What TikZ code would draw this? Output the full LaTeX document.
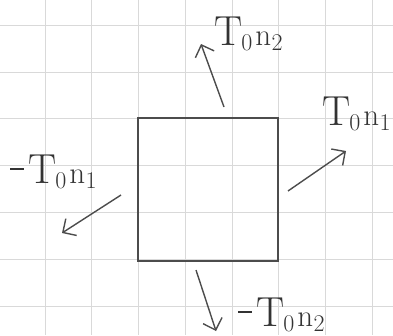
\documentclass[tikz,border=0pt]{standalone}
\usetikzlibrary{arrows.meta}
\newcommand\subsz[1]{\raisebox{-5pt}{\fontsize{24}{24}\selectfont #1}}
\newcommand\tnvec[1]{T\kern-1pt\subsz{0}\kern3pt{\fontsize{31}{31}\selectfont n}\kern0.5pt\subsz{#1}}
\newcommand\negdash{\rule[13pt]{14pt}{1.8pt}\kern4pt}
\begin{document}
\begin{tikzpicture}[x=1pt,y=-1pt,
  pencil/.style={draw=black!70,line width=1.4pt},
  vec/.style={pencil,-{Straight Barb[length=10pt,width=20pt,line width=1.4pt]}},
  lab/.style={text=black!80,inner sep=0pt,anchor=base west,font=\fontsize{42}{42}\selectfont}]
\useasboundingbox (0,0) rectangle (393,335);
% grid paper
\foreach \x in {45,91.7,138.4,185.1,231.8,278.5,325.2,371.9}
  \draw[black!15,line width=0.6pt] (\x,0) -- (\x,335);
\foreach \y in {25,72,118.5,165,212,259.5,306}
  \draw[black!15,line width=0.6pt] (0,\y) -- (393,\y);
% square
\node[pencil,minimum width=140pt,minimum height=143pt,inner sep=0pt] (sq) at (208,189.5) {};
% arrow end points
\coordinate (ts) at (224,107); \coordinate (te) at (201,44);
\coordinate (rs) at (288,191); \coordinate (re) at (346,151);
\coordinate (ls) at (121,195); \coordinate (le) at (62,233);
\coordinate (bs) at (196,270); \coordinate (be) at (216,331);
\draw[vec] (ts) -- (te);
\draw[vec] (rs) -- (re);
\draw[vec] (ls) -- (le);
\draw[vec] (bs) -- (be);
% labels
\node[lab] (lt) at (214,45) {\tnvec{2}};
\node[lab] (lr) at (322,125) {\tnvec{1}};
\node[lab] (ll) at (10,183) {\negdash\tnvec{1}};
\node[lab] (lb) at (238,326) {\negdash\tnvec{2}};
\end{tikzpicture}
\end{document}
